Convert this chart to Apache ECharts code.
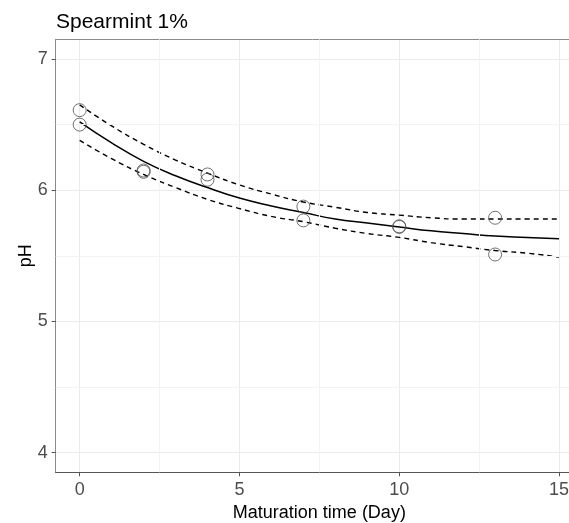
<!DOCTYPE html>
<html>
<head>
<meta charset="utf-8">
<title>Spearmint 1%</title>
<script src="https://cdn.jsdelivr.net/npm/echarts@6/dist/echarts.min.js"></script>
<style>
  html, body { margin: 0; padding: 0; background: #ffffff; overflow: hidden; }
  #chart { width: 569px; height: 523px; }
</style>
</head>
<body>
<div id="chart"></div>
<script>
// Observed pH by maturation day (replicates share a day)
const obsDays = [0, 0, 2, 2, 4, 4, 7, 7, 10, 10, 13, 13];
const obsPH   = [6.61, 6.50, 6.15, 6.14, 6.12, 6.08, 5.875, 5.77, 5.72, 5.725, 5.79, 5.51];

// Fitted decay curve and its lower / upper band, sampled per day
const fitDays  = [0, 1, 2, 3, 4, 5, 6, 7, 8, 9, 10, 11, 12, 13, 14, 15];
const fitPH    = [6.52, 6.36, 6.22, 6.11, 6.02, 5.94, 5.88, 5.83, 5.78, 5.75, 5.72, 5.69, 5.67, 5.65, 5.64, 5.63];
const upperPH  = [6.65, 6.49, 6.35, 6.23, 6.13, 6.04, 5.97, 5.91, 5.87, 5.83, 5.81, 5.79, 5.78, 5.78, 5.78, 5.78];
const lowerPH  = [6.38, 6.24, 6.12, 6.02, 5.93, 5.86, 5.80, 5.76, 5.71, 5.67, 5.64, 5.60, 5.57, 5.54, 5.52, 5.49];

// Axis ticks
const xTicks = [0, 5, 10, 15];
const yTicks = [4, 5, 6, 7];
const xMinorTicks = [2.5, 7.5, 12.5];
const yMinorTicks = [4.5, 5.5, 6.5];

const X_RANGE = [-0.75, 15.75];
const Y_RANGE = [3.85, 7.15];

const FONT = '"Liberation Sans", Arial, sans-serif';
const zip = (xs, ys) => xs.map((x, i) => [x, ys[i]]);

const chart = echarts.init(document.getElementById('chart'));

const minorLines = xMinorTicks.map(v => ({ xAxis: v }))
  .concat(yMinorTicks.map(v => ({ yAxis: v })));

const curveLine = (name, values, lineStyle, z) => ({
  name,
  type: 'line',
  data: zip(fitDays, values),
  smooth: 0.5,
  showSymbol: false,
  lineStyle,
  z
});

chart.setOption({
  animation: false,
  title: {
    text: 'Spearmint 1%',
    left: 51,
    top: 7,
    textStyle: { fontFamily: FONT, fontSize: 21, fontWeight: 'normal', color: '#000000' }
  },
  grid: { left: 55.7, top: 39.3, width: 527.3, height: 433, outerBoundsMode: 'none', show: false },
  xAxis: [
    {
      type: 'value',
      min: X_RANGE[0],
      max: X_RANGE[1],
      name: 'Maturation time (Day)',
      nameLocation: 'middle',
      nameGap: 32,
      nameMoveOverlap: false,
      nameTextStyle: { fontFamily: FONT, fontSize: 18, color: '#000000' },
      axisLine: { show: true, onZero: false, lineStyle: { color: '#555555', width: 1.2 } },
      axisTick: { show: true, customValues: xTicks, length: 4, lineStyle: { color: '#555555', width: 1 } },
      axisLabel: { customValues: xTicks, margin: 9, fontFamily: FONT, fontSize: 18, color: '#4d4d4d' },
      splitLine: { show: true, lineStyle: { color: '#ebebeb', width: 1 } }
    },
    {
      // top panel edge
      type: 'value',
      position: 'top',
      min: X_RANGE[0],
      max: X_RANGE[1],
      axisLine: { show: true, onZero: false, lineStyle: { color: '#8a8a8a', width: 1 } },
      axisTick: { show: false },
      axisLabel: { show: false },
      splitLine: { show: false }
    }
  ],
  yAxis: {
    type: 'value',
    min: Y_RANGE[0],
    max: Y_RANGE[1],
    name: 'pH',
    nameLocation: 'middle',
    nameGap: 21,
    nameMoveOverlap: false,
    nameRotate: 90,
    nameTextStyle: { fontFamily: FONT, fontSize: 18, color: '#000000' },
    axisLine: { show: true, onZero: false, lineStyle: { color: '#8a8a8a', width: 1 } },
    axisTick: { show: true, customValues: yTicks, length: 4, lineStyle: { color: '#555555', width: 1 } },
    axisLabel: { customValues: yTicks, margin: 8, fontFamily: FONT, fontSize: 18, color: '#4d4d4d' },
    splitLine: { show: true, lineStyle: { color: '#ebebeb', width: 1 } }
  },
  series: [
    {
      // minor grid lines
      type: 'line',
      data: [],
      silent: true,
      markLine: {
        silent: true,
        symbol: 'none',
        label: { show: false },
        lineStyle: { color: '#f3f3f3', width: 1, type: 'solid' },
        data: minorLines
      },
      z: 0
    },
    curveLine('upper', upperPH, { color: '#000000', width: 1.4, type: [5, 4] }, 3),
    curveLine('lower', lowerPH, { color: '#000000', width: 1.4, type: [5, 4] }, 3),
    curveLine('fit', fitPH, { color: '#000000', width: 1.5, type: 'solid' }, 4),
    {
      name: 'observed',
      type: 'scatter',
      data: zip(obsDays, obsPH),
      symbol: 'circle',
      symbolSize: 13,
      itemStyle: { color: 'rgba(0,0,0,0)', borderColor: '#4d4d4d', borderWidth: 1 },
      z: 5
    }
  ]
});
</script>
</body>
</html>
